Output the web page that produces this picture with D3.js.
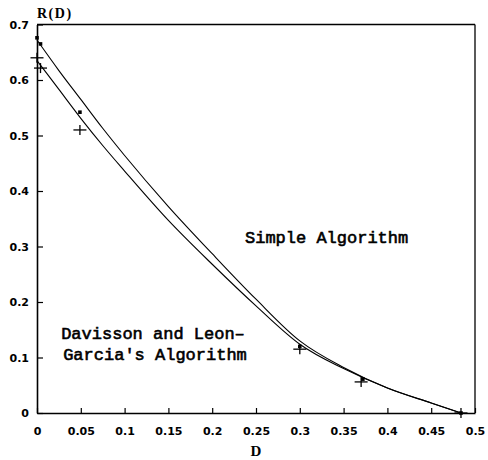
<!DOCTYPE html>
<html><head><meta charset="utf-8">
<script src="https://cdn.jsdelivr.net/npm/d3@7"></script>
<style>body{margin:0;background:#fff}svg{display:block}</style>
</head><body>
<svg id="chart" width="488" height="460"></svg>
<script>
// Curve sample points (D, R)
const curveD = [0, 0.025, 0.05, 0.075, 0.1, 0.15, 0.2, 0.25, 0.3, 0.35, 0.4, 0.45, 0.484];
const upperR = [0.672, 0.617, 0.565, 0.513, 0.464, 0.372, 0.287, 0.205, 0.130, 0.082, 0.045, 0.018, 0];
const lowerR = [0.635, 0.583, 0.531, 0.482, 0.436, 0.347, 0.268, 0.193, 0.124, 0.080, 0.045, 0.018, 0];
// Marker points
const dotD = [0, 0.004, 0.049, 0.3, 0.372, 0.484];
const dotR = [0.676, 0.665, 0.542, 0.120, 0.061, 0];
const plusD = [0, 0.004, 0.049, 0.3, 0.37, 0.484];
const plusR = [0.640, 0.6215, 0.510, 0.115, 0.056, 0];
// Ticks
const xTicks = [0, 0.05, 0.1, 0.15, 0.2, 0.25, 0.3, 0.35, 0.4, 0.45, 0.5];
const xTickLabels = ["0", "0.05", "0.1", "0.15", "0.2", "0.25", "0.3", "0.35", "0.4", "0.45", "0.5"];
const yTicks = [0, 0.1, 0.2, 0.3, 0.4, 0.5, 0.6, 0.7];
const yTickLabels = ["0", "0.1", "0.2", "0.3", "0.4", "0.5", "0.6", "0.7"];

const svg = d3.select("#chart");
const x = d3.scaleLinear().domain([0, 0.5]).range([37, 475]);
const y = d3.scaleLinear().domain([0, 0.7]).range([413, 24.5]);
const tickFont = "'DejaVu Sans', sans-serif";

// frame top/right
svg.append("line").attr("x1", x(0)).attr("x2", x(0.5)).attr("y1", y(0.7)).attr("y2", y(0.7))
  .attr("stroke", "#000").attr("stroke-width", 1.3);
svg.append("line").attr("x1", x(0.5)).attr("x2", x(0.5)).attr("y1", y(0.7)).attr("y2", y(0))
  .attr("stroke", "#000").attr("stroke-width", 1.3);

// x axis
const xAxis = d3.axisBottom(x).tickValues(xTicks).tickSizeInner(-5).tickSizeOuter(0)
  .tickFormat((d, i) => xTickLabels[i]).tickPadding(16);
const gx = svg.append("g").attr("transform", `translate(0,${y(0)})`).call(xAxis);
gx.select(".domain").attr("stroke-width", 1.6);
gx.selectAll(".tick line").attr("stroke-width", 1.2);
gx.selectAll("text").attr("font-family", tickFont).attr("font-weight", "bold")
  .attr("font-size", 11).attr("fill", "#000").attr("dy", 0).attr("y", 21.5);

// y axis
const yAxis = d3.axisLeft(y).tickValues(yTicks).tickSizeInner(-6).tickSizeOuter(0)
  .tickFormat((d, i) => yTickLabels[i]).tickPadding(14);
const gy = svg.append("g").attr("transform", `translate(${x(0)},0)`).call(yAxis);
gy.select(".domain").attr("stroke-width", 1.6);
gy.selectAll(".tick line").attr("stroke-width", 1.2);
gy.selectAll("text").attr("font-family", tickFont).attr("font-weight", "bold")
  .attr("font-size", 11).attr("fill", "#000").attr("x", -8);

// curves
const line = d3.line().x(d => x(d[0])).y(d => y(d[1])).curve(d3.curveMonotoneX);
[upperR, lowerR].forEach(rs => {
  svg.append("path").datum(curveD.map((d, i) => [d, rs[i]]))
    .attr("d", line).attr("fill", "none").attr("stroke", "#000").attr("stroke-width", 1.1);
});

// dot markers
svg.append("g").selectAll("rect").data(dotD.map((d, i) => [d, dotR[i]])).join("rect")
  .attr("x", d => x(d[0]) - 1.8).attr("y", d => y(d[1]) - 1.8)
  .attr("width", 3.6).attr("height", 3.6).attr("fill", "#000");

// plus markers
const pg = svg.append("g").attr("stroke", "#000").attr("stroke-width", 1.3);
plusD.forEach((d, i) => {
  const cx = x(d), cy = y(plusR[i]);
  pg.append("line").attr("x1", cx - 6.5).attr("x2", cx + 6.5).attr("y1", cy).attr("y2", cy);
  pg.append("line").attr("x1", cx).attr("x2", cx).attr("y1", cy - 5).attr("y2", cy + 5);
});

// labels
svg.append("text").attr("x", x(0)).attr("y", 18).text("R(D)")
  .attr("font-family", "'Liberation Serif', serif").attr("font-weight", "bold")
  .attr("font-size", 14).attr("letter-spacing", 1.5);
svg.append("text").attr("x", x(0.25)).attr("y", 456).attr("text-anchor", "middle").text("D")
  .attr("font-family", "'Liberation Serif', serif").attr("font-weight", "bold").attr("font-size", 15);

const annFont = "'Liberation Mono', 'Courier New', monospace";
const ann = [
  {t: "Simple Algorithm", x: 245, y: 243, a: "start"},
  {t: "Davisson and Leon\u2013", x: 153, y: 339, a: "middle"},
  {t: "Garcia's Algorithm", x: 155, y: 360, a: "middle"}
];
svg.append("g").selectAll("text").data(ann).join("text")
  .attr("x", d => d.x).attr("y", d => d.y).attr("text-anchor", d => d.a).text(d => d.t)
  .attr("font-family", annFont).attr("font-size", 17)
  .attr("stroke", "#000").attr("stroke-width", 0.6);
</script>
</body></html>
